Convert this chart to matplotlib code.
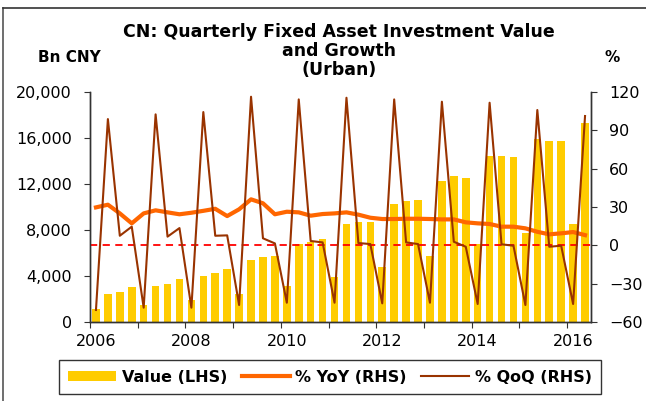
import numpy as np
import matplotlib
matplotlib.use("Agg")
import matplotlib.pyplot as plt
from matplotlib.lines import Line2D
from matplotlib.patches import Patch

# Quarterly urban FAI, 2006Q1 .. 2016Q2
quarters = [f"{y}Q{q}" for y in range(2006, 2017) for q in range(1, 5)][:42]
value_bn = [1150, 2430, 2610, 3040, 1480, 3130, 3330, 3770, 1910, 3970, 4290, 4640,
            2470, 5390, 5680, 5770, 3130, 6780, 6990, 7220, 3910, 8520, 8700, 8720,
            4780, 10260, 10490, 10580, 5770, 12290, 12670, 12490, 6780, 14430, 14460, 14350,
            7740, 15910, 15710, 15710, 8550, 17280]
yoy_pct = [29.7, 31.8, 25.0, 17.2, 25.0, 27.4, 25.8, 24.3, 25.5, 27.0, 28.6, 22.9,
           28.2, 36.0, 32.9, 24.3, 26.3, 25.8, 23.2, 24.5, 25.0, 25.8, 24.0, 21.6,
           20.6, 20.6, 20.8, 20.8, 20.6, 20.3, 20.3, 18.0, 17.2, 16.7, 14.6, 14.6,
           13.3, 10.6, 8.6, 9.4, 10.4, 8.0]
qoq_pct = [-50.6, 98.8, 7.5, 14.6, -48.8, 102.5, 6.8, 13.5, -48.8, 104.3, 7.5, 7.8,
           -46.7, 116.3, 5.5, 1.5, -44.9, 114.2, 3.4, 2.3, -44.9, 115.5, 1.8, 1.0,
           -45.4, 114.2, 2.3, 1.0, -44.9, 112.4, 2.8, -1.1, -45.9, 111.6, 0.8, -0.3,
           -46.7, 105.9, -1.1, -0.3, -45.9, 101.2]
year_labels = ["2006", "2008", "2010", "2012", "2014", "2016"]
title_lines = ["CN: Quarterly Fixed Asset Investment Value", "and Growth", "(Urban)"]

# quarter centre on a fractional-year axis
x = np.array([int(q[:4]) + (int(q[-1]) - 0.5) / 4 for q in quarters])

BAR_C = "#FFCC00"
YOY_C = "#FF6600"
QOQ_C = "#993300"

fig = plt.figure(figsize=(6.46, 4.01), dpi=100)
ax = fig.add_axes([90 / 646, 1 - 322 / 401, 501 / 646, 230 / 401])
ax2 = ax.twinx()

ax.bar(x, value_bn, width=0.16, color=BAR_C, zorder=1)
ax.set_ylim(0, 20000)
ax.set_yticks(np.arange(0, 20001, 4000))
ax.yaxis.set_major_formatter(matplotlib.ticker.FuncFormatter(lambda v, p: f"{v:,.0f}"))

ax2.axhline(0, color="#FF0000", lw=1.3, ls=(0, (4, 3)), zorder=2)
ax2.plot(x, yoy_pct, color=YOY_C, lw=3, zorder=3, solid_joinstyle="round")
ax2.plot(x, qoq_pct, color=QOQ_C, lw=1.5, zorder=4)
ax2.set_ylim(-60, 120)
ax2.set_yticks(np.arange(-60, 121, 30))

ax.set_xlim(2006, 2016.5)
ax.set_xticks(np.arange(2006, 2017))
ax.set_xticklabels([])
ax.set_xticks([int(y) + 0.125 for y in year_labels], minor=True)
ax.set_xticklabels(year_labels, minor=True)

for a in (ax, ax2):
    a.set_facecolor("none")
    a.spines["top"].set_visible(False)
    for s in a.spines.values():
        s.set_color("#333333")
        s.set_linewidth(1)
    a.tick_params(axis="y", labelsize=11.5, colors="#333333", labelcolor="black",
                  length=4, pad=9)
ax.tick_params(axis="x", which="minor", length=0, pad=9, labelsize=11.5)
ax.tick_params(axis="x", which="major", length=4, direction="out", color="#333333")
ax.set_zorder(ax2.get_zorder() - 1)
ax2.patch.set_visible(False)
ax.patch.set_visible(False)

for line, yb in zip(title_lines, [37, 56, 75]):
    fig.text(339 / 646, 1 - yb / 401, line, ha="center", va="baseline",
             fontsize=12.5, fontweight="bold")
fig.text(69 / 646, 1 - 58 / 401, "Bn CNY", ha="center", va="center",
         fontsize=11, fontweight="bold")
fig.text(612 / 646, 1 - 58 / 401, "%", ha="center", va="center",
         fontsize=11, fontweight="bold")

handles = [Patch(facecolor=BAR_C, edgecolor="none"),
           Line2D([], [], color=YOY_C, lw=3),
           Line2D([], [], color=QOQ_C, lw=1.5)]
labels = ["Value (LHS)", "% YoY (RHS)", "% QoQ (RHS)"]
leg = fig.legend(handles, labels, loc="center", bbox_to_anchor=(330 / 646, 1 - 377 / 401),
                 ncol=3, frameon=True, fancybox=False, edgecolor="black",
                 prop={"size": 11.5, "weight": "bold"}, handlelength=3.0,
                 handleheight=0.55, handletextpad=0.35, columnspacing=0.9,
                 borderpad=0.6, borderaxespad=0)
leg.get_frame().set_linewidth(1)

# outer chart frame (left and top edges visible)
fig.add_artist(Line2D([3 / 646, 3 / 646], [0, 1 - 8 / 401], color="#555555", lw=1.2,
                      transform=fig.transFigure))
fig.add_artist(Line2D([3 / 646, 1], [1 - 8 / 401, 1 - 8 / 401], color="#333333", lw=1.2,
                      transform=fig.transFigure))

fig.savefig("out.png", dpi=100)
